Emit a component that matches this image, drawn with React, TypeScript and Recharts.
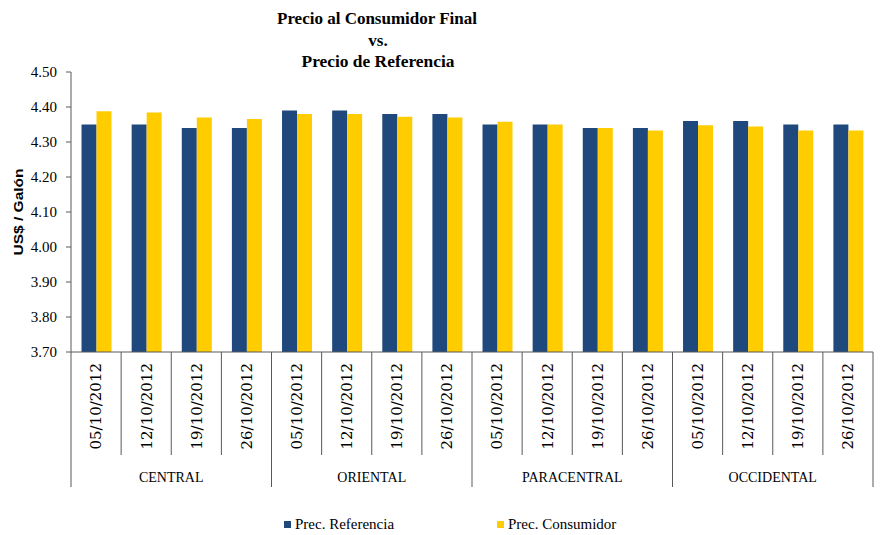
import React from 'react';
import { BarChart, Bar, XAxis, YAxis, Legend } from 'recharts';

const regions = ['CENTRAL', 'ORIENTAL', 'PARACENTRAL', 'OCCIDENTAL'];
const weeks = ['05/10/2012', '12/10/2012', '19/10/2012', '26/10/2012'];
const precReferencia = [
  4.35, 4.35, 4.34, 4.34,
  4.39, 4.39, 4.38, 4.38,
  4.35, 4.35, 4.34, 4.34,
  4.36, 4.36, 4.35, 4.35,
];
const precConsumidor = [
  4.388, 4.384, 4.37, 4.366,
  4.38, 4.38, 4.372, 4.37,
  4.358, 4.35, 4.34, 4.333,
  4.348, 4.344, 4.333, 4.333,
];
const yTicks = [3.7, 3.8, 3.9, 4.0, 4.1, 4.2, 4.3, 4.4, 4.5];

const data = regions.flatMap((r, ri) =>
  weeks.map((w, wi) => ({
    region: r,
    date: w,
    referencia: precReferencia[ri * weeks.length + wi],
    consumidor: precConsumidor[ri * weeks.length + wi],
  }))
);

const LINE = '#595959';
const BLUE = '#1F497D';
const YELLOW = '#FFCC00';
const DATE_ROW = 103;
const REGION_ROW = 32;

function DateTick(props: any) {
  const { x, y, payload } = props;
  const half = payload?.offset ?? 25;
  const i = payload?.index ?? props.index;
  const ty = y + 11;
  return (
    <g>
      <line x1={x - half} x2={x - half} y1={y} y2={y + DATE_ROW} stroke={LINE} strokeWidth={1} />
      {i === data.length - 1 && (
        <line x1={x + half} x2={x + half} y1={y} y2={y + DATE_ROW} stroke={LINE} strokeWidth={1} />
      )}
      <text
        x={x}
        y={ty}
        dy="0.36em"
        transform={`rotate(-90 ${x} ${ty})`}
        textAnchor="end"
        fontFamily="'DejaVu Serif', serif"
        fontSize={15}
        fill="#000"
      >
        {payload.value}
      </text>
    </g>
  );
}

function RegionTick(props: any) {
  const { x, y, payload } = props;
  const half = payload?.offset ?? 25;
  const i = payload?.index ?? props.index;
  const n = weeks.length;
  return (
    <g>
      {i % n === 0 && (
        <line x1={x - half} x2={x - half} y1={y} y2={y + REGION_ROW} stroke={LINE} strokeWidth={1} />
      )}
      {i === data.length - 1 && (
        <line x1={x + half} x2={x + half} y1={y} y2={y + REGION_ROW} stroke={LINE} strokeWidth={1} />
      )}
      {i % n === 1 && (
        <text
          x={x + half}
          y={y + 27}
          textAnchor="middle"
          fontFamily="'Liberation Serif', serif"
          fontSize={14}
          fill="#000"
        >
          {payload.value}
        </text>
      )}
    </g>
  );
}

const legendLeft: Record<string, number> = { referencia: 284, consumidor: 497 };

function LegendContent(props: any) {
  const { payload } = props;
  return (
    <div style={{ position: 'relative', width: 880, height: 20 }}>
      {(payload || []).map((p: any) => (
        <div
          key={p.value}
          style={{
            position: 'absolute',
            left: legendLeft[p.dataKey] ?? 0,
            top: 0,
            height: 20,
            display: 'flex',
            alignItems: 'center',
            fontFamily: "'Liberation Serif', serif",
            fontSize: 15,
            color: '#000',
            whiteSpace: 'nowrap',
          }}
        >
          <span style={{ display: 'inline-block', width: 7, height: 7, background: p.color, marginRight: 4 }} />
          {p.value}
        </div>
      ))}
    </div>
  );
}

function YLabel(props: any) {
  const vb = props.viewBox || { x: 0, y: 72, width: 71, height: 280 };
  const cx = vb.x + 18;
  const cy = vb.y + vb.height / 2;
  return (
    <text
      x={cx}
      y={cy}
      transform={`rotate(-90 ${cx} ${cy})`}
      textAnchor="middle"
      dy="0.35em"
      fontFamily="'Liberation Sans', Arial, sans-serif"
      fontWeight="bold"
      fontSize={13}
      textLength={87}
      lengthAdjust="spacingAndGlyphs"
      fill="#000"
    >
      US$ / Galón
    </text>
  );
}

export default function App() {
  return (
    <div style={{ position: 'absolute', left: 0, top: 0, width: 880, height: 535, background: '#fff' }}>
      <BarChart
        width={880}
        height={535}
        data={data}
        margin={{ top: 72, right: 7, left: 0, bottom: 28 }}
        barCategoryGap="21%"
        barGap={0}
      >
        <YAxis
          domain={[3.7, 4.5]}
          ticks={yTicks}
          allowDataOverflow
          width={71}
          tickSize={5}
          tickMargin={9}
          tickFormatter={(v: number) => v.toFixed(2)}
          stroke={LINE}
          tick={{ fill: '#000', fontFamily: "'Liberation Serif', serif", fontSize: 15 }}
          label={{ content: YLabel }}
        />
        <XAxis
          xAxisId="date"
          dataKey="date"
          interval={0}
          height={DATE_ROW}
          tickSize={0}
          tickMargin={0}
          tickLine={false}
          axisLine={{ stroke: LINE }}
          tick={DateTick}
        />
        <XAxis
          xAxisId="region"
          dataKey="region"
          interval={0}
          height={REGION_ROW}
          tickSize={0}
          tickMargin={0}
          tickLine={false}
          axisLine={false}
          tick={RegionTick}
        />
        <Legend
          verticalAlign="bottom"
          wrapperStyle={{ left: 0, top: 514, bottom: 'auto', width: 880, height: 20 }}
          content={LegendContent}
        />
        <Bar xAxisId="date" dataKey="referencia" name="Prec. Referencia" fill={BLUE} isAnimationActive={false} />
        <Bar xAxisId="date" dataKey="consumidor" name="Prec. Consumidor" fill={YELLOW} isAnimationActive={false} />
      </BarChart>
      <svg
        width={880}
        height={80}
        style={{ position: 'absolute', left: 0, top: 0, pointerEvents: 'none' }}
      >
        <g fontFamily="'Liberation Serif', serif" fontWeight="bold" fontSize={17} fill="#000" textAnchor="middle">
          <text x={377} y={24} textLength={200} lengthAdjust="spacingAndGlyphs">Precio al Consumidor Final</text>
          <text x={378} y={46}>vs.</text>
          <text x={378} y={67} textLength={153} lengthAdjust="spacingAndGlyphs">Precio de Referencia</text>
        </g>
      </svg>
    </div>
  );
}
